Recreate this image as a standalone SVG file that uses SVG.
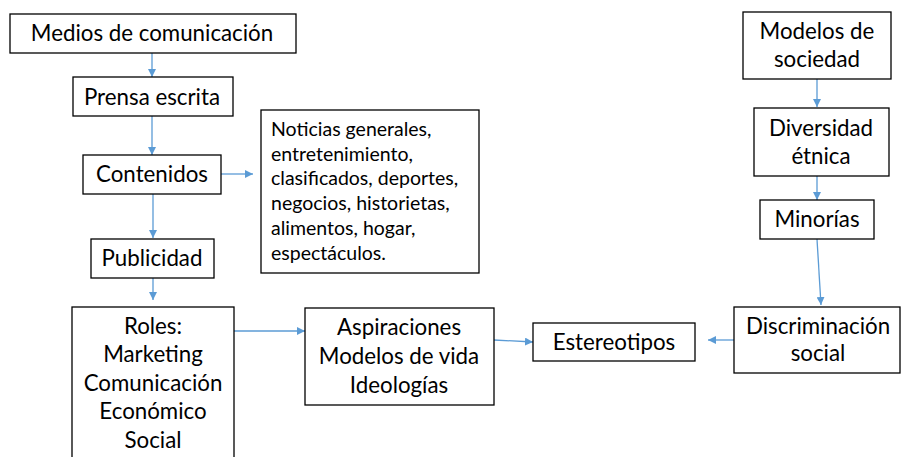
<svg xmlns="http://www.w3.org/2000/svg" width="901" height="457" viewBox="0 0 901 457">
<defs>
<marker id="ah" viewBox="0 0 10 10" refX="10" refY="5" markerWidth="8" markerHeight="8" markerUnits="userSpaceOnUse" orient="auto">
<path d="M0,0 L10,5 L0,10 z" fill="#5B9BD5"/>
</marker>
<style>
.box{fill:#fff;stroke:#000;stroke-width:1.3}
.t{font-family:Lato,"Liberation Sans",sans-serif;font-size:22.3px;fill:#000;text-anchor:middle;dominant-baseline:central}
.n{font-family:Lato,"Liberation Sans",sans-serif;font-size:19.5px;fill:#000}
.c{stroke:#5B9BD5;stroke-width:1.3;fill:none;marker-end:url(#ah)}
</style>
</defs>
<rect width="901" height="457" fill="#fff"/>
<g id="connectors">
<line class="c" x1="152" y1="53" x2="152" y2="77"/>
<line class="c" x1="152" y1="116" x2="152" y2="155"/>
<line class="c" x1="221" y1="174" x2="253" y2="174"/>
<line class="c" x1="153" y1="194" x2="153" y2="238"/>
<line class="c" x1="153" y1="278" x2="153" y2="300"/>
<line class="c" x1="234" y1="331" x2="305" y2="331"/>
<line class="c" x1="494" y1="340" x2="533" y2="342"/>
<line class="c" x1="734" y1="340" x2="708" y2="340"/>
<line class="c" x1="817" y1="79" x2="817" y2="107"/>
<line class="c" x1="817" y1="176" x2="817" y2="200"/>
<line class="c" x1="817" y1="239" x2="821" y2="305"/>
</g>
<g id="medios">
<rect class="box" x="10" y="14" width="286" height="39"/>
<text class="t" x="152" y="32">Medios de comunicación</text>
</g>
<g id="prensa">
<rect class="box" x="73" y="77" width="160" height="39"/>
<text class="t" x="152" y="96">Prensa escrita</text>
</g>
<g id="contenidos">
<rect class="box" x="83" y="155" width="138" height="39"/>
<text class="t" x="152" y="173">Contenidos</text>
</g>
<g id="notas">
<rect class="box" x="261" y="110" width="218" height="163"/>
<text class="n" x="271" y="136">Noticias generales,</text>
<text class="n" x="271" y="161">entretenimiento,</text>
<text class="n" x="271" y="185">clasificados, deportes,</text>
<text class="n" x="271" y="210">negocios, historietas,</text>
<text class="n" x="271" y="235">alimentos, hogar,</text>
<text class="n" x="271" y="260">espectáculos.</text>
</g>
<g id="publicidad">
<rect class="box" x="91" y="239" width="123" height="39"/>
<text class="t" x="152" y="257">Publicidad</text>
</g>
<g id="roles">
<rect class="box" x="72" y="307" width="162" height="160"/>
<text class="t" x="153" y="325">Roles:</text>
<text class="t" x="153" y="353">Marketing</text>
<text class="t" x="153" y="382">Comunicación</text>
<text class="t" x="153" y="410">Económico</text>
<text class="t" x="153" y="439">Social</text>
</g>
<g id="aspiraciones">
<rect class="box" x="305" y="308" width="189" height="97"/>
<text class="t" x="399" y="326">Aspiraciones</text>
<text class="t" x="399" y="355">Modelos de vida</text>
<text class="t" x="399" y="384">Ideologías</text>
</g>
<g id="estereotipos">
<rect class="box" x="533" y="323" width="162" height="38"/>
<text class="t" x="614" y="341">Estereotipos</text>
</g>
<g id="discriminacion">
<rect class="box" x="734" y="307" width="166" height="66"/>
<text class="t" x="818" y="325">Discriminación</text>
<text class="t" x="818" y="352">social</text>
</g>
<g id="modelos">
<rect class="box" x="743" y="12" width="148" height="67"/>
<text class="t" x="817" y="30">Modelos de</text>
<text class="t" x="817" y="58">sociedad</text>
</g>
<g id="diversidad">
<rect class="box" x="754" y="108" width="135" height="68"/>
<text class="t" x="821" y="127">Diversidad</text>
<text class="t" x="821" y="155">étnica</text>
</g>
<g id="minorias">
<rect class="box" x="760" y="200" width="114" height="39"/>
<text class="t" x="817" y="218">Minorías</text>
</g>
</svg>
